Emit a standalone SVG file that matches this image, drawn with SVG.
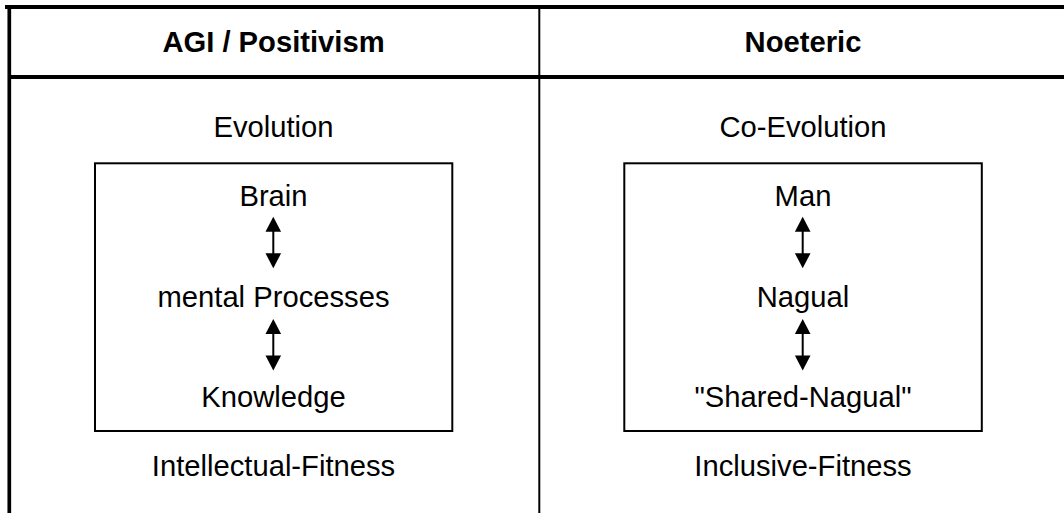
<svg xmlns="http://www.w3.org/2000/svg" width="1064" height="513" viewBox="0 0 1064 513">
<style>
.t{font-family:"Liberation Sans",Arial,sans-serif;font-size:29.2px;fill:#000;text-anchor:middle}
.h{font-weight:bold}
.frame{stroke:#000;fill:none}
.box{stroke:#000;stroke-width:2;fill:none}
.shaft{stroke:#000;stroke-width:2}
.head{fill:#000}
</style>
<defs>
<g id="arr">
<line class="shaft" x1="0" y1="12" x2="0" y2="40"/>
<polygon class="head" points="0,0 7.8,15 -7.8,15"/>
<polygon class="head" points="0,51.6 7.8,36.6 -7.8,36.6"/>
</g>
</defs>
<g id="table">
<line class="frame" x1="5" y1="7" x2="1064" y2="7" stroke-width="4"/>
<line class="frame" x1="9.3" y1="5" x2="9.3" y2="513" stroke-width="3.7"/>
<line class="frame" x1="9" y1="77" x2="1064" y2="77" stroke-width="4"/>
<line class="frame" x1="539.3" y1="9" x2="539.3" y2="513" stroke-width="2"/>
</g>
<g id="header-left"><text class="t h" x="273.5" y="52">AGI / Positivism</text></g>
<g id="header-right"><text class="t h" x="803" y="52">Noeteric</text></g>
<g id="left-col">
<text class="t" x="273.5" y="137">Evolution</text>
<rect class="box" x="95" y="163.3" width="357.3" height="267.7"/>
<text class="t" x="273.5" y="206">Brain</text>
<text class="t" x="273.5" y="307">mental Processes</text>
<text class="t" x="273.5" y="407">Knowledge</text>
<text class="t" x="273.5" y="476">Intellectual-Fitness</text>
</g>
<g id="right-col">
<text class="t" x="803" y="137">Co-Evolution</text>
<rect class="box" x="624.3" y="163.3" width="357.5" height="267.7"/>
<text class="t" x="803" y="206">Man</text>
<text class="t" x="803" y="307">Nagual</text>
<text class="t" x="803" y="407">"Shared-Nagual"</text>
<text class="t" x="803" y="476">Inclusive-Fitness</text>
</g>
<g id="connectors">
<use href="#arr" x="273.3" y="216.7"/>
<use href="#arr" x="273.3" y="319"/>
<use href="#arr" x="802.7" y="216.7"/>
<use href="#arr" x="802.7" y="319"/>
</g>
</svg>
